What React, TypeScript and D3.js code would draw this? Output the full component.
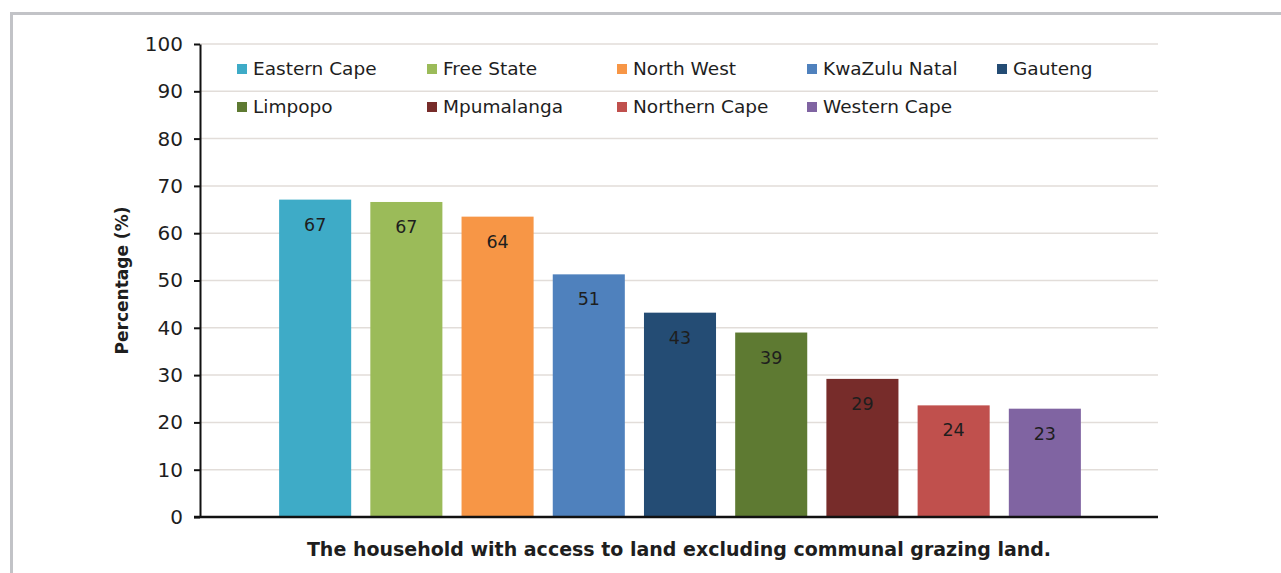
import { useEffect, useRef } from "react";
import * as d3 from "d3";

const provinces = [
  "Eastern Cape",
  "Free State",
  "North West",
  "KwaZulu Natal",
  "Gauteng",
  "Limpopo",
  "Mpumalanga",
  "Northern Cape",
  "Western Cape",
];

const percentages = [67.1, 66.6, 63.5, 51.3, 43.2, 39.0, 29.2, 23.6, 22.9];

const barColors = [
  "#3eabc7",
  "#9bbb59",
  "#f79646",
  "#4f81bd",
  "#244c74",
  "#5e7a32",
  "#772c2a",
  "#c0504d",
  "#8064a2",
];

const yTicks = [0, 10, 20, 30, 40, 50, 60, 70, 80, 90, 100];

const yTitle = "Percentage (%)";
const xTitle = "The household with access to land excluding communal grazing land.";

const W = 1281;
const H = 573;
const FONT = "'DejaVu Sans', Verdana, sans-serif";

export default function App() {
  const svgRef = useRef<SVGSVGElement>(null);

  useEffect(() => {
    if (!svgRef.current) return;
    const svg = d3.select(svgRef.current);
    svg.selectAll("*").remove();

    // outer frame
    svg.append("rect")
      .attr("x", 11.5)
      .attr("y", 13.5)
      .attr("width", W + 20)
      .attr("height", H + 20)
      .attr("fill", "#fff")
      .attr("stroke", "#c2c3c7")
      .attr("stroke-width", 3);

    const left = 200;
    const right = 1158;
    const top = 44;
    const bottom = 517;

    const y = d3.scaleLinear().domain([0, 100]).range([bottom, top]);
    const x = d3.scaleBand<string>()
      .domain(provinces)
      .range([270, 1090])
      .paddingInner(0.21)
      .paddingOuter(0.1);

    // gridlines
    svg.append("g")
      .selectAll("line")
      .data(yTicks.filter(t => t > 0))
      .enter()
      .append("line")
      .attr("x1", left)
      .attr("x2", right)
      .attr("y1", d => y(d))
      .attr("y2", d => y(d))
      .attr("stroke", "#e2ddd9")
      .attr("stroke-width", 1.5);

    // bars
    const data = provinces.map((p, i) => ({ p, v: percentages[i], c: barColors[i] }));
    svg.append("g")
      .selectAll("rect")
      .data(data)
      .enter()
      .append("rect")
      .attr("x", d => x(d.p) || 0)
      .attr("width", x.bandwidth())
      .attr("y", d => y(d.v))
      .attr("height", d => bottom - y(d.v))
      .attr("fill", d => d.c);

    // value labels
    svg.append("g")
      .selectAll("text")
      .data(data)
      .enter()
      .append("text")
      .attr("x", d => (x(d.p) || 0) + x.bandwidth() / 2)
      .attr("y", d => y(d.v) + 31)
      .attr("text-anchor", "middle")
      .style("font-family", FONT)
      .style("font-size", "17.5px")
      .style("fill", "#1e1e1e")
      .text(d => Math.round(d.v));

    // y axis
    const yAxis = svg.append("g")
      .attr("transform", `translate(${left},0)`)
      .call(d3.axisLeft(y).tickValues(yTicks).tickSize(6).tickPadding(11).tickSizeOuter(0));
    yAxis.select(".domain").attr("stroke", "#111").attr("stroke-width", 2);
    yAxis.selectAll(".tick line").attr("stroke", "#111").attr("stroke-width", 2);
    yAxis.selectAll(".tick text")
      .style("font-family", FONT)
      .style("font-size", "20px")
      .style("fill", "#1e1e1e");

    // x axis line
    svg.append("line")
      .attr("x1", left - 6)
      .attr("x2", right)
      .attr("y1", bottom)
      .attr("y2", bottom)
      .attr("stroke", "#111")
      .attr("stroke-width", 2.5);

    // axis titles
    svg.append("text")
      .attr("transform", `translate(128,${(top + bottom) / 2}) rotate(-90)`)
      .attr("text-anchor", "middle")
      .style("font-family", FONT)
      .style("font-size", "17px")
      .style("font-weight", "bold")
      .style("fill", "#1e1e1e")
      .text(yTitle);

    svg.append("text")
      .attr("x", (left + right) / 2)
      .attr("y", 556)
      .attr("text-anchor", "middle")
      .style("font-family", FONT)
      .style("font-size", "19px")
      .style("font-weight", "bold")
      .style("fill", "#1e1e1e")
      .text(xTitle);

    // legend, two rows of five columns
    const legend = svg.append("g");
    const items = legend.selectAll("g")
      .data(data)
      .enter()
      .append("g")
      .attr("transform", (_d, i) => `translate(${237 + (i % 5) * 190},${69 + Math.floor(i / 5) * 38})`);
    items.append("rect")
      .attr("x", 0)
      .attr("y", -5)
      .attr("width", 10)
      .attr("height", 10)
      .attr("fill", d => d.c);
    items.append("text")
      .attr("x", 16)
      .attr("y", 0)
      .attr("dy", "0.35em")
      .style("font-family", FONT)
      .style("font-size", "18.5px")
      .style("fill", "#1e1e1e")
      .text(d => d.p);
  }, []);

  return (
    <svg
      ref={svgRef}
      width={W}
      height={H}
      style={{ position: "absolute", left: 0, top: 0, background: "#fff" }}
    />
  );
}
